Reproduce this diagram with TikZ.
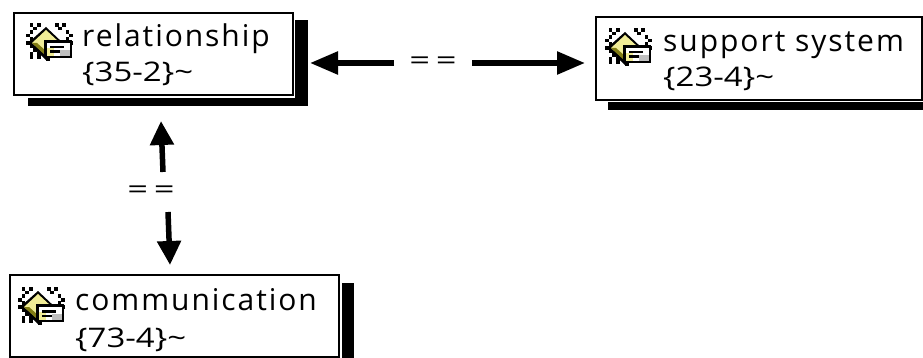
\documentclass[tikz,border=0pt]{standalone}
\usepackage{fontspec}
\setmainfont{Open Sans}
\newfontfamily\wide[LetterSpace=6.5]{Open Sans}
\usetikzlibrary{arrows.meta,calc}
\definecolor{iconyellow}{RGB}{240,236,150}
\definecolor{iconolive}{RGB}{130,125,20}
\newcommand{\subline}[1]{\scalebox{1.22}[1]{\fontsize{27}{27}\selectfont #1}}
\newcommand{\eqpair}{\raisebox{-5pt}{\scalebox{1.4}[1]{\fontsize{26}{26}\selectfont =\hspace{4pt}=}}}
\tikzset{
  x=1pt,y=-1pt,
  topicbox/.style={draw=black,line width=2pt,fill=white,anchor=north west,inner sep=0pt,outer sep=0pt},
  shadowbar/.style={fill=black},
  toptext/.style={anchor=base west,inner sep=0pt,font=\fontsize{30}{30}\selectfont\wide},
  subtext/.style={anchor=base west,inner sep=0pt},
  gaplabel/.style={inner sep=0pt,outer sep=0pt},
  harrow/.style={line width=5.5pt,-{Triangle[length=28pt,width=22pt]}},
  varrow/.style={line width=5.5pt,-{Triangle[length=24pt,width=23pt]}},
  topicicon/.pic={
    \foreach \a/\b in {3.6/0,10.8/0,7.2/3.6,3.6/7.2,28.8/0,36/0,32.4/3.6,39.6/7.2,0/10.8,3.6/14.4,0/18,3.6/21.6,39.6/14.4,43.2/10.8,43.2/18,3.6/28.8,7.2/25.2,10.8/28.8,3.6/32.4,10.8/32.4}
      \fill[black] (\a,\b) rectangle ++(3.7,3.7);
    \fill[black] (20,4) -- (37,20) -- (20,37) -- (2,20) -- cycle;
    \fill[iconyellow] (20,7) -- (33,19) -- (20,32) -- (6,20) -- cycle;
    \fill[iconolive] (6,20) -- (20,33) -- (20,28) -- (11,20) -- cycle;
    \fill[black] (18,17) rectangle (46,35);
    \fill[white] (21,20) rectangle (44,33);
    \fill[iconyellow] (21,25) rectangle (28,33);
    \fill[black] (24,23) rectangle (38,25.5);
    \fill[black] (24,27.5) rectangle (34,30);
    \fill[gray!50] (34,27) rectangle (44,33);
    \fill[black] (20,35) rectangle (24,38);
  }
}
\begin{document}
\begin{tikzpicture}
\useasboundingbox (0,0) rectangle (923,358);
% shadows
\fill[shadowbar] (295,20) rectangle (308,106);
\fill[shadowbar] (28,98) rectangle (308,106);
\fill[shadowbar] (608,102) rectangle (923,110);
\fill[shadowbar] (342,283) rectangle (354,358);
% boxes
\node[topicbox,minimum width=279pt,minimum height=82pt] (rel) at (14,13) {};
\node[topicbox,minimum width=326pt,minimum height=83pt] (sup) at (596,17) {};
\node[topicbox,minimum width=329pt,minimum height=82pt] (com) at (10,275) {};
% icons
\pic at (26,23) {topicicon};
\pic at (605,28) {topicicon};
\pic at (18,287) {topicicon};
% texts
\node[toptext] (t1) at (82,47) {relationship};
\node[subtext] (s1) at (82,82) {\subline{\{35-2\}\textasciitilde}};
\node[toptext] (t2) at (663,52) {support system};
\node[subtext] (s2) at (663,87) {\subline{\{23-4\}\textasciitilde}};
\node[toptext] (t3) at (75,310) {communication};
\node[subtext] (s3) at (75,347) {\subline{\{73-4\}\textasciitilde}};
% labels
\node[gaplabel,minimum width=78pt,minimum height=20pt] (eqa) at (433,63) {\eqpair};
\node[gaplabel,minimum width=42pt,minimum height=40pt] (eqb) at (151,192) {\eqpair};
% connectors
\draw[harrow,shorten >=17pt] (eqa.west) -- (rel.east |- eqa.west);
\draw[harrow,shorten >=11pt] (eqa.east) -- (sup.west |- eqa.east);
\draw[varrow] ($(eqb.north)+(12,0)$) -- ($(rel.south)+(7.5,26)$);
\draw[varrow] ($(eqb.south)+(17,0)$) -- ($(com.north)+(-4.5,-10)$);
\end{tikzpicture}
\end{document}
